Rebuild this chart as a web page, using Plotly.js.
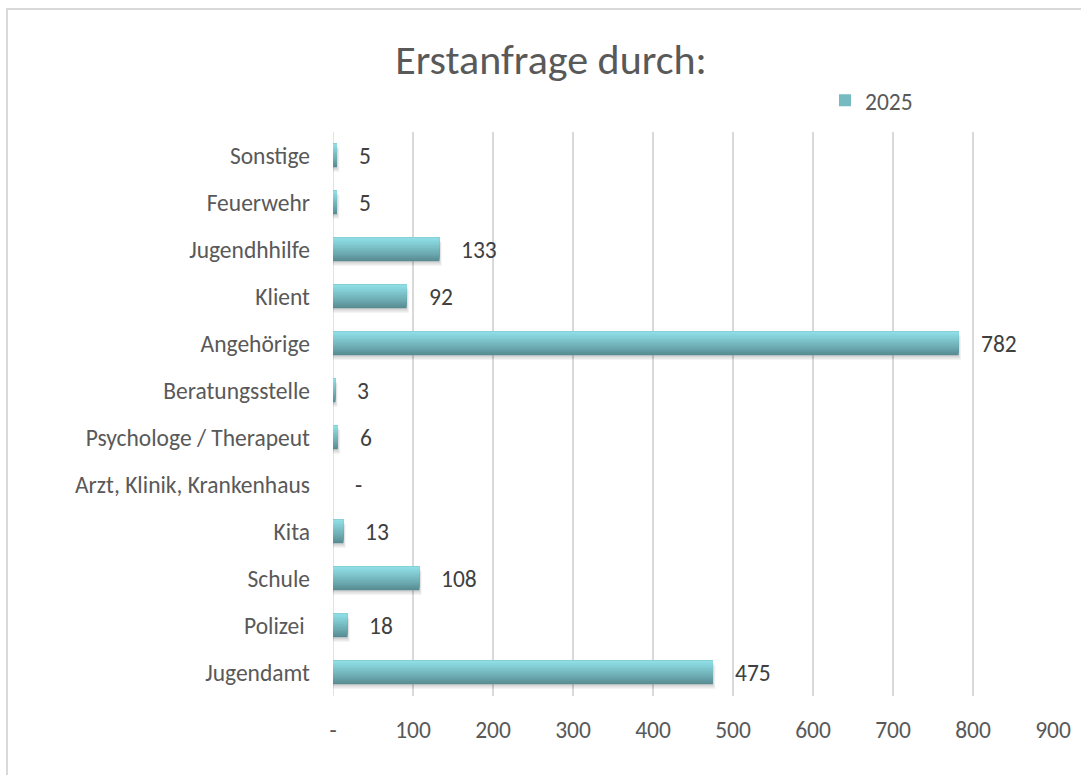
<!DOCTYPE html>
<html>
<head>
<meta charset="utf-8">
<script src="https://cdn.plot.ly/plotly-3.0.1.min.js"></script>
<style>
  html, body { margin:0; padding:0; background:#ffffff; overflow:hidden; }
  #frame { position:absolute; left:6px; top:8px; width:1200px; height:900px;
           border-left:2px solid #d9d9d9; border-top:2px solid #d9d9d9; pointer-events:none; z-index:2; }
  #chart { position:absolute; left:0; top:0; width:1081px; height:775px; }
</style>
</head>
<body>
<div id="chart"></div>
<div id="frame"></div>
<script>
// ---- data ----
const categories = ["Jugendamt", "Polizei\u00a0", "Schule", "Kita", "Arzt, Klinik, Krankenhaus",
  "Psychologe / Therapeut", "Beratungsstelle", "Angehörige", "Klient", "Jugendhhilfe", "Feuerwehr", "Sonstige"];
const values2025 = [475, 18, 108, 13, 0, 6, 3, 782, 92, 133, 5, 5];
const seriesName = "2025";
const xTickVals = [0, 100, 200, 300, 400, 500, 600, 700, 800, 900];
const xTickText = ["-", "100", "200", "300", "400", "500", "600", "700", "800", "900"];

// ---- styling ----
const FONT = "Carlito, Calibri, Lato, 'Liberation Sans', sans-serif";
const FS = 23.5;
const barWidth = 0.5;
const topColor = [143, 222, 230];
const botColor = [88, 140, 146];
const N = 16;

const traces = [];
// soft shadow layers
const shadows = [
  {off: -0.10, c: 'rgba(0,0,0,0.045)', dx: 3},
  {off: -0.075, c: 'rgba(0,0,0,0.055)', dx: 2},
  {off: -0.045, c: 'rgba(0,0,0,0.065)', dx: 1}
];
shadows.forEach(s => {
  traces.push({
    type: 'bar', orientation: 'h', y: categories, x: values2025.map(v => v > 0 ? v + s.dx : 0),
    offset: -barWidth/2 + s.off, width: barWidth,
    marker: {color: s.c, line: {width: 0}},
    showlegend: false, hoverinfo: 'skip'
  });
});
// gradient slices (bottom dark -> top light), each slice extends to the bar top
for (let i = 0; i < N; i++) {
  const t = i / (N - 1);
  const c = topColor.map((tc, k) => Math.round(botColor[k] + (tc - botColor[k]) * Math.pow(t, 0.9)));
  traces.push({
    type: 'bar', orientation: 'h', y: categories, x: values2025,
    offset: -barWidth/2 + i * barWidth / N, width: barWidth - i * barWidth / N,
    marker: {color: `rgb(${c[0]},${c[1]},${c[2]})`, line: {width: 0}},
    name: seriesName, showlegend: i === Math.floor(N/2), hoverinfo: 'x+y'
  });
}

const annotations = categories.map((cat, i) => ({
  x: values2025[i], y: cat, xref: 'x', yref: 'y',
  text: values2025[i] === 0 ? '-' : String(values2025[i]),
  showarrow: false, xanchor: 'left', yanchor: 'middle', xshift: 20,
  font: {family: FONT, size: FS, color: '#404040'}
}));

const layout = {
  width: 1081, height: 775,
  margin: {l: 333, r: 28, t: 131.5, b: 78.5, pad: 0},
  paper_bgcolor: 'rgba(0,0,0,0)', plot_bgcolor: 'rgba(0,0,0,0)',
  barmode: 'overlay',
  font: {family: FONT, size: FS, color: '#595959'},
  title: {text: 'Erstanfrage durch:', x: 551/1081, xref: 'container', xanchor: 'center',
          y: 1 - 59/775, yref: 'container', yanchor: 'middle',
          font: {family: FONT, size: 42, color: '#595959'}},
  xaxis: {range: [0, 900], tickvals: xTickVals, ticktext: xTickText,
          showgrid: true, gridcolor: '#d9d9d9', gridwidth: 1.5, zeroline: false,
          showline: false, ticks: '', ticklabelstandoff: 17,
          tickfont: {family: FONT, size: FS, color: '#595959'}, fixedrange: true},
  yaxis: {type: 'category', range: [-0.5, 11.5], showgrid: false, zeroline: false,
          showline: false, ticks: '', ticklabelstandoff: 22,
          tickfont: {family: FONT, size: FS, color: '#595959'}, fixedrange: true},
  shapes: [{type: 'line', xref: 'x', yref: 'paper', x0: 0, x1: 0, y0: 0, y1: 1,
            line: {color: '#d9d9d9', width: 1.5}, layer: 'below'}],
  showlegend: true,
  legend: {x: (825-333)/720, xanchor: 'left', y: (696.5-100)/565, yanchor: 'middle', orientation: 'h',
           font: {family: FONT, size: FS, color: '#595959'}, bgcolor: 'rgba(0,0,0,0)'},
  annotations: annotations
};

Plotly.newPlot('chart', traces, layout, {displayModeBar: false, staticPlot: true});
</script>
</body>
</html>
